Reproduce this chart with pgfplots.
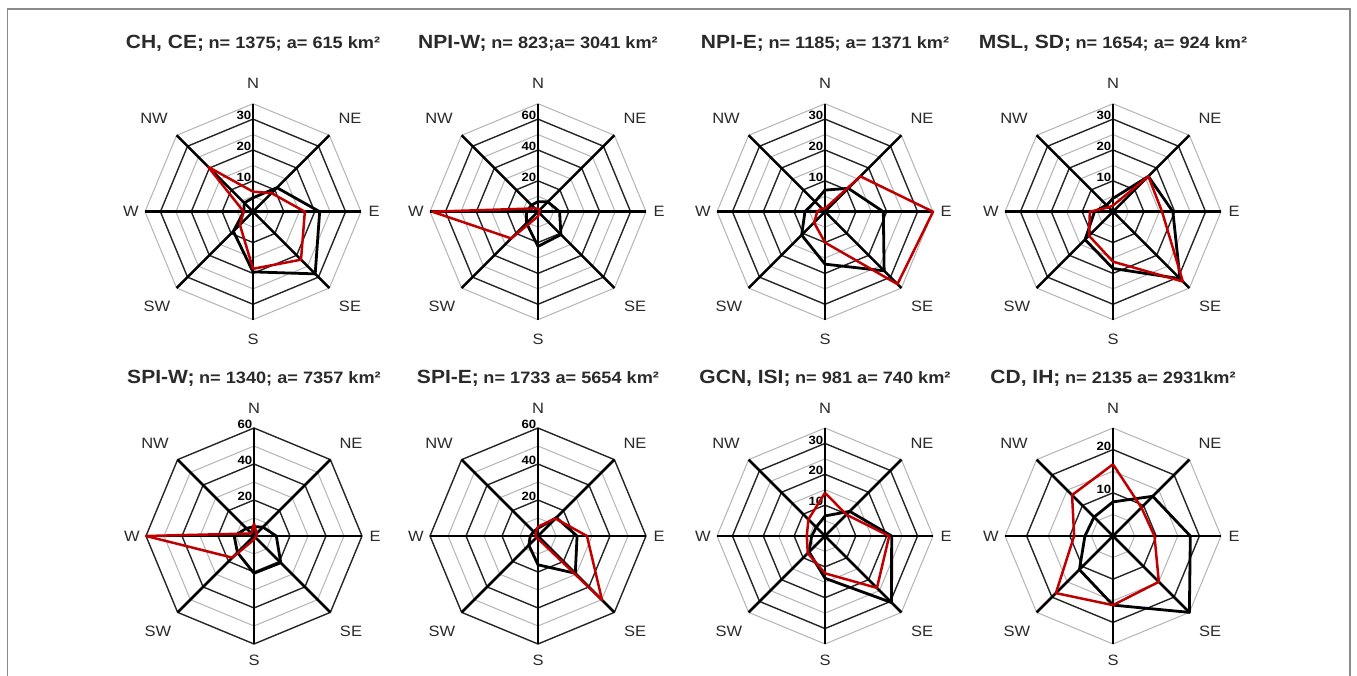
\documentclass[border=0pt]{standalone}
\usepackage{pgfplots}
\pgfplotsset{compat=1.18}
\usepackage{pgfplotstable}
\usepackage{fontspec}
\setmainfont{Liberation Sans}[FakeStretch=1.1]
\definecolor{majgrid}{HTML}{262626}
\definecolor{mingrid}{HTML}{B4B4B4}
\definecolor{dred}{HTML}{C00000}
\definecolor{lblc}{HTML}{2A2A2A}
\definecolor{framec}{HTML}{8A8A8A}

% order: N NE E SE S SW W NW N
\pgfplotstableread{
ang blk red
90 4.5 6.5
45 11 8.5
0 21.6 16.8
-45 28.5 22
-90 19.5 18.5
-135 9 6
-180 3 3
-225 4 20.5
-270 4.5 6.5
}\dataA
\pgfplotstableread{
ang blk red
90 6.5 2
45 9 1.5
0 14 1
-45 21 1
-90 22.5 3
-135 10.5 24.5
-180 7.5 68.5
-225 6 3
-270 6.5 2
}\dataB
\pgfplotstableread{
ang blk red
90 7 1
45 10.7 16.2
0 18.9 35
-45 27.1 33.2
-90 17 10
-135 10.7 5
-180 6.5 2.5
-225 4.6 1.5
-270 7 1
}\dataC
\pgfplotstableread{
ang blk red
90 4.3 2
45 16.2 16.2
0 19.4 15.9
-45 30.7 32
-90 18.4 16.2
-135 12.8 11
-180 6 7.5
-225 3 2
-270 4.3 2
}\dataD
\pgfplotstableread{
ang blk red
90 5.2 7
45 7 2
0 12.4 1.5
-45 21 1
-90 20.7 2
-135 13 17
-180 11 60
-225 6 2
-270 5.2 7
}\dataE
\pgfplotstableread{
ang blk red
90 4.3 5.2
45 14.4 13.7
0 21.7 27.2
-45 29.3 50.3
-90 16 1.5
-135 7.2 1.5
-180 4.3 1
-225 3.4 2
-270 4.3 5.2
}\dataF
\pgfplotstableread{
ang blk red
90 6.5 14
45 11.3 9.8
0 21.6 20.8
-45 30.5 23.8
-90 13.7 12.1
-135 7.3 7.9
-180 4.3 5.9
-225 4 7.6
-270 6.5 14
}\dataG
\pgfplotstableread{
ang blk red
90 7.9 16.6
45 13 9.3
0 17.9 9.6
-45 25 15
-90 16 16
-135 11 18.7
-180 6.5 9
-225 6.2 13.4
-270 7.9 16.6
}\dataH

\newcommand{\dirfont}{\fontsize{15bp}{16bp}\selectfont}
\newcommand{\tickfont}{\fontsize{12bp}{12bp}\selectfont\bfseries}
\newcommand{\soff}{128}
\newcommand{\toff}{163.4}

% #1 cx  #2 cy  #3 R  #4 unit  #5 major  #6 minor  #7 table  #8 title1  #9 title2
\newcommand{\panel}[9]{%
\begin{axis}[at={(#1bp,#2bp)}, anchor=center, x=#4bp, y=#4bp,
  xmin=-#3, xmax=#3, ymin=-#3, ymax=#3, hide axis, clip=false]
  \pgfplotsinvokeforeach{#6}{%
    \addplot[mingrid, line width=1bp, data cs=polar] coordinates {(0,##1)(45,##1)(90,##1)(135,##1)(180,##1)(225,##1)(270,##1)(315,##1)(360,##1)};
  }
  \pgfplotsinvokeforeach{#5}{%
    \addplot[majgrid, line width=1.4bp, data cs=polar] coordinates {(0,##1)(45,##1)(90,##1)(135,##1)(180,##1)(225,##1)(270,##1)(315,##1)(360,##1)};
    \node[anchor=east, inner sep=0pt, font=\tickfont, xshift=-1.5bp, yshift=3.5bp] at (axis cs:0,##1) {##1};
  }
  \addplot[black, line width=2.5bp, data cs=polar] coordinates {(0,#3)(180,#3)};
  \addplot[black, line width=2.5bp, data cs=polar] coordinates {(90,#3)(270,#3)};
  \addplot[black, line width=2.5bp, data cs=polar] coordinates {(45,#3)(225,#3)};
  \addplot[black, line width=2.5bp, data cs=polar] coordinates {(135,#3)(315,#3)};
  \addplot[black, line width=2.8bp, line join=round, data cs=polar] table[x=ang, y=blk] {#7};
  \addplot[dred, line width=2.5bp, line join=round, data cs=polar] table[x=ang, y=red] {#7};
\end{axis}
\begin{scope}[shift={(#1bp,#2bp)}, font=\dirfont, text=lblc]
  \node at (0bp,128bp) {N};
  \node at (97bp,93bp) {NE};
  \node at (121bp,0bp) {E};
  \node at (97bp,-95bp) {SE};
  \node at (0bp,-\soff bp) {S};
  \node at (-96bp,-95bp) {SW};
  \node at (-122bp,0bp) {W};
  \node at (-99bp,93bp) {NW};
  \node[anchor=base, inner sep=0pt] at (0bp,\toff bp) {{\fontsize{19.1bp}{20bp}\selectfont\bfseries #8} {\fontsize{16.5bp}{18bp}\selectfont\bfseries #9}};
\end{scope}
}

\begin{document}
\begin{tikzpicture}
\path[use as bounding box] (0,0) rectangle (1357bp,676bp);
\fill[white] (0,0) rectangle (1357bp,676bp);
\draw[framec, line width=1.3bp] (7.5bp,0bp) -- (7.5bp,667bp) -- (1350bp,667bp) -- (1350bp,0bp);

\panel{253}{464.3}{35}{3.086}{10,20,30}{5,15,25,35}{\dataA}{CH, CE;}{n= 1375; a= 615 km²}
\panel{538}{464.3}{70}{1.543}{20,40,60}{10,30,50,70}{\dataB}{NPI-W;}{n= 823;a= 3041 km²}
\panel{825}{464.3}{35}{3.086}{10,20,30}{5,15,25,35}{\dataC}{NPI-E;}{n= 1185; a= 1371 km²}
\panel{1113}{464.3}{35}{3.086}{10,20,30}{5,15,25,35}{\dataD}{MSL, SD;}{n= 1654; a= 924 km²}

\renewcommand{\soff}{124}
\renewcommand{\toff}{152.7}
\panel{254}{140}{60}{1.8}{20,40,60}{10,30,50}{\dataE}{SPI-W;}{n= 1340; a= 7357 km²}
\panel{538}{140}{60}{1.8}{20,40,60}{10,30,50}{\dataF}{SPI-E;}{n= 1733 a= 5654 km²}
\panel{825}{140}{35}{3.086}{10,20,30}{5,15,25,35}{\dataG}{GCN, ISI;}{n= 981 a= 740 km²}
\panel{1113}{140}{25}{4.32}{10,20}{5,15,25}{\dataH}{CD, IH;}{n= 2135 a= 2931km²}
\end{tikzpicture}
\end{document}
